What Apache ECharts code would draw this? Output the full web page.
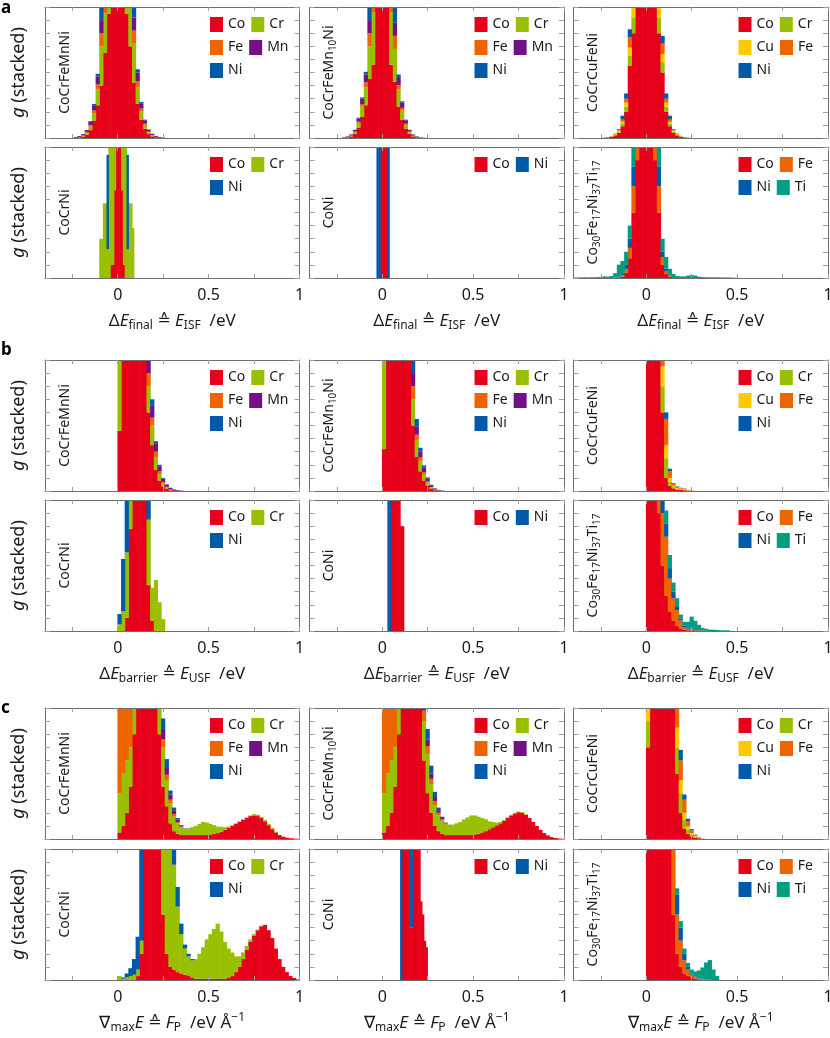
<!DOCTYPE html>
<html>
<head>
<meta charset="utf-8">
<script src="https://cdn.jsdelivr.net/npm/echarts@6/dist/echarts.min.js"></script>
<style>
html, body { margin: 0; padding: 0; background: #fff; }
#main { width: 830px; height: 1038px; }
</style>
</head>
<body>
<div id="main"></div>
<script>
// element colours
var elementColors = { Co: '#e6001a', Cr: '#99c000', Cu: '#fdca00', Fe: '#ec6500', Mn: '#721085', Ni: '#005aa9', Ti: '#009d81' };

// x axis: -0.4 .. 1, labelled ticks and minor ticks
var xTickLabels = ['0', '0.5', '1'];
var xTickValues = [-0.25, 0, 0.25, 0.5, 0.75, 1];

// panels (left to right, top to bottom inside each block)
var panelKeys = ['hea', 'mn10', 'cu', 'mea', 'coni', 'ti'];
var panelLabels = ['CoCrFeMnNi', 'CoCrFeMn{s|10}Ni', 'CoCrCuFeNi', 'CoCrNi', 'CoNi', 'Co{s|30}Fe{s|17}Ni{s|37}Ti{s|17}'];
var panelElements = [
    ['Co', 'Cr', 'Fe', 'Mn', 'Ni'],
    ['Co', 'Cr', 'Fe', 'Mn', 'Ni'],
    ['Co', 'Cr', 'Cu', 'Fe', 'Ni'],
    ['Co', 'Cr', 'Ni'],
    ['Co', 'Ni'],
    ['Co', 'Fe', 'Ni', 'Ti']
];

// ---- a: dE_final (histogram counts, axis top = 10) ----
var fin_hea_start = -0.24, fin_hea_bin = 0.02;
var fin_hea_Co = [0.02,0.05,0.1,0.25,0.6,1.3,2.5,4,6.5,9.5,12,13,13,12,9.5,7,4.2,2.6,1.4,0.7,0.3,0.12,0.06,0.03,0];
var fin_hea_Cr = [0,0.03,0.08,0.15,0.3,0.6,1.2,3,3,3,3,3,3,3,3,3,3,1.3,0.65,0.3,0.15,0.08,0.03,0,0];
var fin_hea_Fe = [0,0,0.02,0.05,0.1,0.2,0.4,1,1,1,1,1,1,1,1,1,1,0.45,0.2,0.1,0.05,0.02,0,0,0];
var fin_hea_Mn = [0.06,0.07,0.1,0.15,0.25,0.4,0.6,1,1,1,1,1,1,1,1,1,1,0.65,0.4,0.25,0.15,0.1,0.07,0.05,0.03];
var fin_hea_Ni = [0,0,0,0,0.05,0.1,0.2,1.5,1,1,1,1,1,1,1,1,1.5,0.25,0.1,0.05,0,0,0,0,0];

var fin_mn10_start = -0.22, fin_mn10_bin = 0.02;
var fin_mn10_Co = [0.02,0.05,0.12,0.3,0.8,1.6,2.5,4.5,5.6,10,12,12,10,5.6,4.3,2.4,1.4,0.7,0.3,0.12,0.05,0.02,0];
var fin_mn10_Cr = [0,0.02,0.05,0.15,0.35,0.8,1.4,2.5,4,3,3,3,3,4,2.5,1.3,0.7,0.3,0.15,0.05,0.02,0,0];
var fin_mn10_Fe = [0,0,0.02,0.05,0.1,0.2,0.35,1,1,1,1,1,1,1,1,0.35,0.2,0.1,0.05,0.02,0,0,0];
var fin_mn10_Mn = [0.03,0.05,0.08,0.12,0.25,0.4,0.6,1,1,1,1,1,1,1,1,0.6,0.4,0.25,0.12,0.08,0.05,0.03,0.02];
var fin_mn10_Ni = [0,0,0,0,0.05,0.1,0.2,2,1,1,1,1,1,1,2,0.2,0.1,0.05,0,0,0,0,0];

var fin_cu_start = -0.24, fin_cu_bin = 0.02;
var fin_cu_Co = [0.02,0.05,0.1,0.2,0.4,0.9,2.0,5.5,8,11,13,14,14,13,11,8,5,2,0.9,0.4,0.2,0.1,0.05,0.02,0];
var fin_cu_Cr = [0,0.01,0.02,0.04,0.08,0.2,0.4,0.8,1.2,1.2,1.2,1.2,1.2,1.2,1.2,1.2,0.8,0.4,0.2,0.08,0.04,0.02,0.01,0,0];
var fin_cu_Cu = [0,0.01,0.02,0.04,0.08,0.15,0.3,0.6,0.8,0.8,0.8,0.8,0.8,0.8,0.8,0.8,0.6,0.3,0.15,0.08,0.04,0.02,0.01,0,0];
var fin_cu_Fe = [0,0,0.02,0.04,0.08,0.15,0.3,0.8,1,1,1,1,1,1,1,1,0.8,0.3,0.15,0.08,0.04,0.02,0,0,0];
var fin_cu_Ni = [0,0,0,0.02,0.05,0.3,0.4,0.6,1,1,1,1,1,1,1,1,0.6,0.4,0.3,0.05,0.02,0,0,0,0];

var fin_mea_start = -0.10, fin_mea_bin = 0.01;
var fin_mea_Co = [0,0,0,0,0,0,1,1,6.7,12,12,12,6.7,1,0,0,0,0,0,0];
var fin_mea_Cr = [3,3,5.7,5.7,2.2,10,10,10,5,2,2,5,10,10,10,2.2,5.7,5.7,3.8,0];
var fin_mea_Ni = [0,0,0,0,7.2,0,0,0,0,0,0,0,0,0,0,7.2,0,0,0,0];

var fin_coni_start = -0.03, fin_coni_bin = 0.01;
var fin_coni_Co = [0,0,12,12,12,12,0];
var fin_coni_Ni = [12,12,0,0,0,0,12];

var fin_ti_start = -0.40, fin_ti_bin = 0.02;
var fin_ti_Co = [0,0,0,0,0,0,0,0,0,0, 0,0.02,0.05,0.1,0.4,1.5,5,9,12,14, 14,12,9,5,1.0,0.3,0.1];
var fin_ti_Fe = [0,0,0,0,0,0,0,0,0,0, 0,0,0.02,0.1,0.3,0.8,2,2,2,2, 2,2,2,2,0.6,0.2,0.05];
var fin_ti_Ni = [0,0,0,0,0,0,0,0,0,0, 0,0,0.05,0.1,0.3,0.7,1.5,1.5,1.5,1.5, 1.5,1.5,1.5,1.5,0.4,0.2,0.05];
var fin_ti_Ti = [0.04,0.04,0.05,0.05,0.05,0.06,0.06,0.08,0.12,0.1, 0.15,0.35,0.9,1.0,1.0,1.0,1.5,1.5,1.5,1.5, 1.5,1.5,1.5,1.5,1.0,0.9,0.5,0.3,0.15,0.12, 0.12,0.18,0.22,0.18,0.1,0.07,0.06,0.05,0.05,0.05, 0.04,0.04,0.04,0.03,0.02];

// ---- b: dE_barrier ----
var bar_hea_start = 0, bar_hea_bin = 0.02;
var bar_hea_Co = [4.6,12,12,12,12,12,12,12,6,3.5,1.6,0.8,0.35,0.15,0.05,0,0,0];
var bar_hea_Cr = [8,2,2,2,2,2,2,2,2,1.5,1.0,0.5,0.25,0.12,0.05,0.02,0,0];
var bar_hea_Fe = [0.5,0.5,0.5,0.5,0.5,0.5,0.5,0.5,1,0.6,0.4,0.2,0.1,0.05,0.02,0,0,0];
var bar_hea_Mn = [0.5,0.5,0.5,0.5,0.5,0.5,0.5,0.5,1,0.9,0.6,0.4,0.25,0.18,0.13,0.1,0.05,0.03];
var bar_hea_Ni = [0.3,0.3,0.3,0.3,0.3,0.3,0.3,0.3,0.5,0.5,0.2,0.1,0.05,0,0,0,0,0];

var bar_mn10_start = 0, bar_mn10_bin = 0.02;
var bar_mn10_Co = [3.2,12,12,12,12,12,12,12,5,2.6,1.5,0.8,0.4,0.15,0.06,0.02,0];
var bar_mn10_Cr = [9,2,2,2,2,2,2,2,2,1.3,0.8,0.5,0.25,0.12,0.05,0.02,0];
var bar_mn10_Fe = [0.5,0.5,0.5,0.5,0.5,0.5,0.5,0.5,1,0.4,0.25,0.15,0.08,0.03,0.01,0,0];
var bar_mn10_Mn = [0.3,0.3,0.3,0.3,0.3,0.3,0.3,0.3,1,0.6,0.45,0.35,0.25,0.15,0.08,0.05,0.03];
var bar_mn10_Ni = [0.2,0.5,0.5,0.5,0.5,0.5,0.5,0.5,1,0.6,0.3,0.15,0.05,0.02,0,0,0];

var bar_cu_start = 0, bar_cu_bin = 0.02;
var bar_cu_Co = [12,12,12,12,6,1,0.4,0.2,0.1,0.08,0.06,0.03,0.02];
var bar_cu_Cr = [1,1,1,1,2,1.5,0.3,0.1,0.07,0.05,0.04,0.02,0.01];
var bar_cu_Cu = [0.5,0.5,0.5,0.5,1.5,1,0.3,0.1,0.07,0.05,0.05,0.03,0.01];
var bar_cu_Fe = [0.5,0.5,0.5,0.5,1.5,2,0.5,0.15,0.08,0.05,0.04,0.02,0.01];
var bar_cu_Ni = [0.3,0.3,0.3,0.3,0.5,0.5,0.2,0.05,0.03,0.02,0.01,0,0];

var bar_mea_start = 0, bar_mea_bin = 0.02;
var bar_mea_Co = [0,0,1,7.8,12,12,12,12,3.5,0.8,0,0,0];
var bar_mea_Cr = [0.5,1.5,5,4,1,1,1,1,5,2.5,3.9,2.2,0.9];
var bar_mea_Ni = [0.8,4,5,0,0,0,0,0,3,0,0,0,0];

var bar_coni_start = 0.03, bar_coni_bin = 0.01;
var bar_coni_Co = [0,0,12,12,12,12,12,8,8];
var bar_coni_Ni = [12,12,0,0,0,0,0,0,0];

var bar_ti_start = 0, bar_ti_bin = 0.02;
var bar_ti_Co = [12,12,12,9,5,2.7,1.5,0.8,0.4,0.2,0.1,0.05,0.05];
var bar_ti_Fe = [0.5,0.5,0.5,2,4,4.5,2.5,1.7,1.2,0.6,0.2,0.1,0.1,0.05,0.05,0.03,0.02];
var bar_ti_Ni = [0.2,0.2,0.2,0.5,1,1,0.8,0.5,0.3,0.15,0.1,0.05,0.05,0.03,0.02,0.01];
var bar_ti_Ti = [0,0,0,0.5,1,1,1,0.7,0.6,0.3,0.3,0.5,0.9,0.7,0.4,0.2,0.15,0.1,0.1,0.08,0.05,0.05,0.05];

// ---- c: max gradient ----
var grad_hea_start = 0, grad_hea_bin = 0.02;
var grad_hea_Co = [0.5,1,2,4,8,12,12,12,12,12, 12,8,4,2.5,1.2,0.6,0.4,0.3,0.3,0.3, 0.3,0.3,0.3,0.3,0.3,0.35,0.4,0.45,0.55,0.7, 0.85,1.0,1.15,1.3,1.45,1.6,1.75,1.8,1.75,1.6, 1.35,1.05,0.75,0.5,0.3,0.18,0.1,0.06,0.03,0.02];
var grad_hea_Cr = [3,4,4,3,2,2,2,2,2,2, 2,3,3,2,1.5,1.1,0.8,0.6,0.5,0.5, 0.6,0.7,0.85,1.0,0.95,0.8,0.65,0.5,0.38,0.2, 0.1,0.05,0.05,0.05,0.05,0.05,0.05,0.1,0.1,0.1, 0.1,0.1,0.1,0.05,0.02];
var grad_hea_Fe = [8,7,6,5,3,1,1,1,1,1, 1,0.8,0.6,0.4,0.3,0.2,0.1,0.05];
var grad_hea_Mn = [0.5,0.5,0.5,0.5,0.5,0.5,0.5,0.5,0.5,0.5, 0.5,1,0.8,0.6,0.4,0.3,0.2,0.1,0.02,0.02];
var grad_hea_Ni = [0.5,0.5,0.5,0.5,0.5,0.5,0.5,0.5,0.5,0.5, 0.5,1,0.8,0.6,0.3,0.2,0.1];

var grad_mn10_start = 0, grad_mn10_bin = 0.02;
var grad_mn10_Co = [0.5,1,2,4,8,12,12,12,12,12, 10,6,3.5,2,1,0.6,0.4,0.3,0.3,0.3, 0.3,0.3,0.3,0.3,0.3,0.35,0.4,0.5,0.6,0.75, 0.9,1.05,1.2,1.4,1.6,1.8,1.95,2.05,2.0,1.85, 1.6,1.3,1.0,0.7,0.45,0.28,0.15,0.08,0.04,0.02];
var grad_mn10_Cr = [3,4,4,3,2,2,2,2,2,2, 2,3,3,2.2,1.6,1.2,1.0,0.85,0.8,0.8, 0.9,1.0,1.2,1.35,1.5,1.45,1.3,1.1,0.9,0.6, 0.4,0.2,0.1,0.05,0.05,0.05,0.05,0.05,0.05,0.05];
var grad_mn10_Fe = [8,7,6,5,3,1,1,1,1,1, 1,0.8,0.6,0.4,0.3,0.2,0.1,0.05];
var grad_mn10_Mn = [0.3,0.3,0.3,0.3,0.3,0.3,0.3,0.3,0.3,0.3, 0.3,0.6,0.5,0.4,0.3,0.2,0.1,0.05];
var grad_mn10_Ni = [0.5,0.5,0.5,0.5,0.5,0.5,0.5,0.5,0.5,0.5, 0.5,1,0.8,0.6,0.4,0.2,0.1];

var grad_cu_start = 0, grad_cu_bin = 0.02;
var grad_cu_Co = [7,12,12,12,12,12,12,12,5,2,0.8,0.4,0.2,0.1,0.05,0.02];
var grad_cu_Cr = [2,2,2,2,2,2,2,2,2,1.5,0.7,0.3,0.15,0.06,0.03,0.01];
var grad_cu_Cu = [1,1,1,1,1,1,1,1,1.5,1,0.5,0.25,0.1,0.05,0.02,0.01];
var grad_cu_Fe = [2,2,2,2,2,2,2,2,2,1.5,1,0.4,0.2,0.08,0.03,0.01];
var grad_cu_Ni = [0.5,0.5,0.5,0.5,0.5,0.5,0.5,0.5,1,0.8,0.4,0.2,0.1,0.04,0.02,0];

var grad_mea_start = 0, grad_mea_bin = 0.02;
var grad_mea_Co = [0,0,0,0,0,0.3,2,10,12,12, 12,12,5,2,1,0.8,0.6,0.5,0.4,0.3, 0.2,0.1,0.1,0.1,0.1,0.1,0.1,0.1,0.1,0.1, 0.2,0.3,0.6,1.0,1.6,2.3,2.9,3.4,3.8,4.1, 4.2,3.8,3.2,2.4,1.6,1.0,0.6,0.3,0.15,0.05];
var grad_mea_Cr = [0.3,0.1,0.2,0.3,0.4,0.5,1,1,1,1, 1,1,6,10,10,8,5,3,2,1.5, 1.3,1.5,1.9,2.4,3,3.4,3.8,4.2,3.6,2.8, 2.2,1.8,1.2,0.8,0.5,0.3,0.2,0.1,0.05,0.05];
var grad_mea_Ni = [0,0.1,0.3,0.6,1.2,2.5,8,1,0.5,0.5, 0.5,0.5,1,1,3,2,1.5,0.8,0.3,0.2, 0.1];

var grad_coni_start = 0.10, grad_coni_bin = 0.01;
var grad_coni_Co = [0,12,12,12,12,4,4,12,12,12,12,6,5,3,2.5];
var grad_coni_Ni = [12,0,0,0,0,8,8,0,0,0,0,0,0,0,0];

var grad_ti_start = 0, grad_ti_bin = 0.02;
var grad_ti_Co = [12,12,12,12,12,12,12,5,2,1,0.5,0.3,0.2,0.1,0.05,0.03,0.02,0.01];
var grad_ti_Fe = [1,1,1,1,1,1,1,5,3,2,1,0.5,0.2,0.1,0.05,0.03,0.02,0.01];
var grad_ti_Ni = [0.5,0.5,0.5,0.5,0.5,0.5,0.5,2,1.5,1,0.5,0.2,0.1,0.05,0.03];
var grad_ti_Ti = [0,0,0,0,0,0,0.5,0.5,0.5,0.5,0.4,0.3,0.3,0.4,0.6,0.9,1.3,1.5,0.8,0.3];

var sectionKeys = ['fin', 'bar', 'grad'];
var sectionLetters = ['a', 'b', 'c'];
var sectionTitles = [
    '{g|Δ}{i|E}{s|final} {e|≙} {i|E}{s|ISF} {g| /eV}',
    '{g|Δ}{i|E}{s|barrier} {e|≙} {i|E}{s|USF} {g| /eV}',
    '{g|∇}{s|max}{i|E} {e|≙} {i|F}{s|P} {g| /eV Å}{p|−1}'
];

// ---------------- layout ----------------
var FONT = 'Noto Sans';
var TEXT = '#1a1a1a';
var colLeft = [45, 309.5, 573.5], colWidth = 254.5;
var rowTop = [7, 147, 360, 500, 708, 849], rowHeight = 131;
var letterTop = [0, 342, 700];

var myChart = echarts.init(document.getElementById('main'));

var tickCats = [];
for (var t = 0; t <= 28; t++) {
    tickCats.push(String(Math.round((-0.4 + 0.05 * t) * 100) / 100));
}
function isTick(v) {
    v = parseFloat(v);
    for (var i = 0; i < xTickValues.length; i++) {
        if (Math.abs(xTickValues[i] - v) < 1e-6) return true;
    }
    return false;
}

// place a panel's bins on the full -0.4..1 bin axis, empty bins stay missing
function binData(arr, start, w) {
    var n = Math.round(1.4 / w);
    var out = [];
    for (var i = 0; i < n; i++) out.push(null);
    var i0 = Math.round((start + 0.4) / w);
    for (var j = 0; j < arr.length; j++) {
        if (i0 + j >= 0 && i0 + j < n && arr[j] > 0) out[i0 + j] = arr[j];
    }
    return out;
}

var grids = [], xAxes = [], yAxes = [], series = [], legends = [], graphics = [];
var tickLine = { color: '#a0a0a0', width: 1 };
var frameLine = { color: '#6f6f6f', width: 1 };

for (var s = 0; s < 3; s++) {
    for (var k = 0; k < 6; k++) {
        var p = s * 6 + k;
        var row = s * 2 + Math.floor(k / 3);
        var col = k % 3;
        var isBottom = (k >= 3);
        var pre = sectionKeys[s] + '_' + panelKeys[k];
        var start = window[pre + '_start'], w = window[pre + '_bin'];
        var nb = Math.round(1.4 / w);
        var bins = [];
        for (var b = 0; b < nb; b++) bins.push(b);

        grids.push({
            left: colLeft[col], top: rowTop[row], width: colWidth, height: rowHeight,
            show: false, containLabel: false, outerBoundsMode: 'none'
        });

        xAxes.push({ type: 'category', gridIndex: p, data: bins, show: false });
        xAxes.push({
            type: 'category', gridIndex: p, position: 'bottom', boundaryGap: false, data: tickCats, z: 5,
            axisLine: { show: true, onZero: false, lineStyle: frameLine },
            axisTick: { show: true, inside: true, length: 4, lineStyle: tickLine,
                interval: function (i, v) { return isTick(v); } },
            axisLabel: { show: isBottom, margin: 9, fontSize: 16, color: TEXT, fontFamily: FONT,
                interval: function (i, v) { return xTickLabels.indexOf(v) >= 0; } },
            splitLine: { show: false },
            name: isBottom ? sectionTitles[s] : '',
            nameLocation: 'middle', nameGap: 32,
            nameTextStyle: {
                fontSize: 17, lineHeight: 22, color: TEXT, fontFamily: FONT,
                rich: {
                    g: { fontSize: 17, lineHeight: 22, fontFamily: FONT, color: TEXT },
                    e: { fontSize: 16, lineHeight: 22, fontFamily: 'DejaVu Sans', color: TEXT },
                    i: { fontSize: 17, lineHeight: 22, fontStyle: 'italic', fontFamily: FONT, color: TEXT },
                    s: { fontSize: 12, lineHeight: 12, padding: [10, 0, 0, 0], fontFamily: FONT, color: TEXT },
                    p: { fontSize: 12, lineHeight: 12, padding: [0, 0, 10, 0], fontFamily: FONT, color: TEXT }
                }
            }
        });
        xAxes.push({
            type: 'category', gridIndex: p, position: 'top', boundaryGap: false, data: tickCats, z: 5,
            axisLine: { show: true, onZero: false, lineStyle: frameLine },
            axisTick: { show: true, inside: true, length: 4, lineStyle: tickLine,
                interval: function (i, v) { return isTick(v); } },
            axisLabel: { show: false }, splitLine: { show: false }
        });

        yAxes.push({
            type: 'value', gridIndex: p, position: 'left', min: 0, max: 10, interval: 1, z: 5,
            axisLine: { show: true, onZero: false, lineStyle: frameLine },
            axisTick: { show: true, inside: true, length: 5, lineStyle: tickLine },
            axisLabel: { show: false }, splitLine: { show: false },
            name: panelLabels[k], nameLocation: 'middle', nameRotate: 90, nameGap: -29,
            nameTextStyle: {
                fontSize: 14, lineHeight: 18, color: TEXT, fontFamily: FONT,
                rich: { s: { fontSize: 10, lineHeight: 10, padding: [8, 0, 0, 0], fontFamily: FONT, color: TEXT } }
            }
        });
        yAxes.push({
            type: 'value', gridIndex: p, position: 'right', min: 0, max: 10, interval: 1, z: 5,
            axisLine: { show: true, onZero: false, lineStyle: frameLine },
            axisTick: { show: true, inside: true, length: 5, lineStyle: tickLine },
            axisLabel: { show: false }, splitLine: { show: false }
        });

        // bars a little wider than their bin so neighbours overlap (no white seams)
        var barPx = colWidth / nb + 0.6;
        var els = panelElements[k];
        for (var e = 0; e < els.length; e++) {
            series.push({
                type: 'bar', name: els[e], xAxisIndex: 3 * p, yAxisIndex: 2 * p,
                stack: 'g' + p, barWidth: barPx, clip: true, silent: true,
                itemStyle: { color: elementColors[els[e]] },
                data: binData(window[pre + '_' + els[e]], start, w)
            });
        }

        legends.push({
            left: colLeft[col] + 165, top: rowTop[row] + 9, width: 80, padding: 0,
            orient: 'horizontal', itemGap: 6, itemWidth: 13, itemHeight: 15,
            icon: 'rect', selectedMode: false, data: els,
            itemStyle: { borderWidth: 0 },
            textStyle: { fontSize: 14, lineHeight: 17, color: TEXT, fontFamily: FONT }
        });
    }
}

for (var r = 0; r < 6; r++) {
    graphics.push({
        type: 'text', x: 19, y: rowTop[r] + rowHeight / 2, rotation: Math.PI / 2,
        style: {
            text: '{i|g} (stacked)', fontSize: 18, fontFamily: FONT, fill: TEXT,
            align: 'center', verticalAlign: 'middle',
            rich: { i: { fontStyle: 'italic', fontSize: 18, fontFamily: FONT } }
        }
    });
}
for (var l = 0; l < 3; l++) {
    graphics.push({
        type: 'text', x: 1, y: letterTop[l],
        style: { text: sectionLetters[l], fontSize: 17, fontWeight: 'bold', fontFamily: FONT, fill: '#000' }
    });
}

var option = {
    animation: false,
    textStyle: { fontFamily: FONT },
    grid: grids,
    xAxis: xAxes,
    yAxis: yAxes,
    legend: legends,
    graphic: graphics,
    series: series
};
myChart.setOption(option);

window.onresize = function () {
    myChart.resize();
};
</script>
</body>
</html>
